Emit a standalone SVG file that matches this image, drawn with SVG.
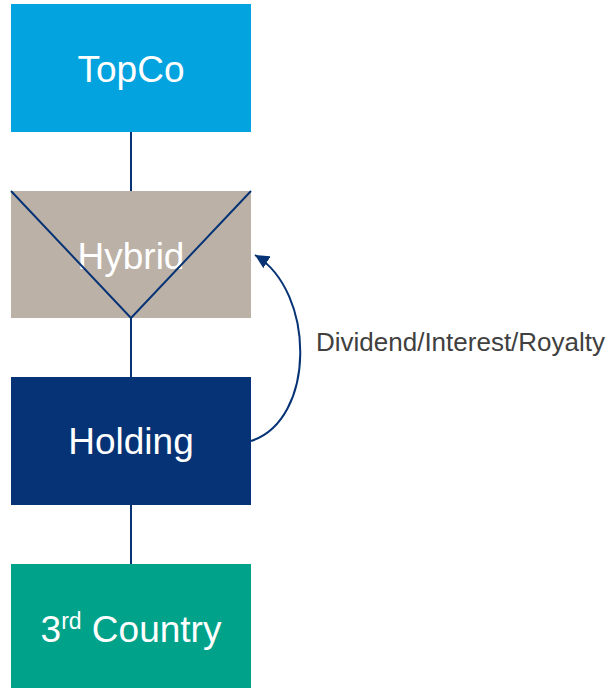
<svg xmlns="http://www.w3.org/2000/svg" width="610" height="688" viewBox="0 0 610 688">
  <style>
    .box-label { font-family: "Liberation Sans", Arial, sans-serif; font-size: 37px; fill: #ffffff; text-anchor: middle; }
    .link { stroke: #063375; stroke-width: 2; fill: none; }
    .note { font-family: "Liberation Sans", Arial, sans-serif; font-size: 26px; fill: #404040; }
  </style>
  <defs>
    <marker id="arrowhead" markerWidth="14" markerHeight="14" refX="10" refY="5" orient="auto" markerUnits="userSpaceOnUse" viewBox="0 0 10 10">
      <path d="M0,0 L10,5 L0,10 Z" fill="#063375"/>
    </marker>
  </defs>
  <rect width="610" height="688" fill="#ffffff"/>

  <!-- vertical ownership links -->
  <g id="connectors">
    <line class="link" x1="131" y1="132" x2="131" y2="191"/>
    <line class="link" x1="131" y1="318" x2="131" y2="377"/>
    <line class="link" x1="131" y1="505" x2="131" y2="564"/>
    <path class="link" d="M251,441 C316,420 316,292 255,255" marker-end="url(#arrowhead)"/>
  </g>

  <g id="topco">
    <rect x="11" y="4" width="240" height="128" fill="#02a3df"/>
    <text class="box-label" x="131" y="82">TopCo</text>
  </g>

  <g id="hybrid">
    <rect x="11" y="191" width="240" height="127" fill="#bbb1a7"/>
    <text class="box-label" x="131" y="269">Hybrid</text>
    <path class="link" d="M11,191 L131,318 L251,191"/>
  </g>

  <g id="holding">
    <rect x="11" y="377" width="240" height="128" fill="#063375"/>
    <text class="box-label" x="131" y="454">Holding</text>
  </g>

  <g id="third-country">
    <rect x="11" y="564" width="240" height="124" fill="#00a28a"/>
    <text class="box-label" x="131" y="642">3<tspan font-size="23" dy="-13">rd</tspan><tspan dy="13"> Country</tspan></text>
  </g>

  <g id="flow-label">
    <text class="note" x="316" y="351">Dividend/Interest/Royalty</text>
  </g>
</svg>
